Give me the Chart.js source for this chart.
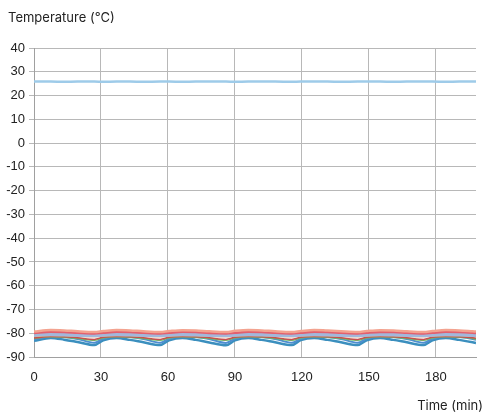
<!DOCTYPE html>
<html>
<head>
<meta charset="utf-8">
<script src="https://cdn.jsdelivr.net/npm/chart.js@4"></script>
<style>
html,body{margin:0;padding:0;background:#fff;}
#wrap{width:485px;height:417px;}
</style>
</head>
<body>
<div id="wrap"><canvas id="c" width="485" height="417"></canvas></div>
<script>
const times = [0,7.5,13.5,19.5, 27,31,37,43,49, 56.5,60.5,66.5,72.5,78.5, 86,90,96,102,108, 115.5,119.5,125.5,131.5,137.5, 145,149,155,161,167, 174.5,178.5,184.5,190.5,196.5, 198];
const xTicks = [0,30,60,90,120,150,180];
const yTicks = [40,30,20,10,0,-10,-20,-30,-40,-50,-60,-70,-80,-90];

const ambient = [25.9,25.9,25.8,25.9, 25.9,25.8,25.9,25.9,25.8, 25.9,25.9,25.8,25.9,25.9, 25.9,25.8,25.9,25.9,25.9, 25.8,25.9,25.9,25.9,25.8, 25.9,25.9,25.9,25.8,25.9, 25.9,25.9,25.8,25.9,25.9, 25.9];
const salmon = [-79.3,-78.6,-78.8,-79.2, -79.5,-79.1,-78.6,-78.8,-79.2, -79.5,-79.1,-78.7,-78.8,-79.2, -79.5,-79.0,-78.6,-78.8,-79.2, -79.5,-79.1,-78.6,-78.9,-79.2, -79.5,-79.1,-78.7,-78.8,-79.2, -79.5,-79.1,-78.6,-78.8,-79.2, -79.3];
const red = [-79.9,-79.4,-79.5,-79.8, -80.1,-79.8,-79.4,-79.5,-79.8, -80.1,-79.8,-79.4,-79.5,-79.9, -80.1,-79.8,-79.4,-79.5,-79.8, -80.1,-79.8,-79.4,-79.5,-79.8, -80.1,-79.8,-79.5,-79.5,-79.8, -80.1,-79.8,-79.4,-79.5,-79.8, -79.9];
const steel = [-80.8,-80.5,-80.6,-80.8, -81.0,-80.7,-80.5,-80.6,-80.8, -81.0,-80.7,-80.5,-80.6,-80.8, -81.0,-80.7,-80.5,-80.6,-80.8, -81.0,-80.7,-80.5,-80.6,-80.8, -81.0,-80.7,-80.5,-80.6,-80.8, -81.0,-80.7,-80.5,-80.6,-80.8, -80.9];
const orange = [-81.2,-81.0,-81.0,-81.2, -81.4,-81.1,-81.0,-81.0,-81.2, -81.4,-81.1,-81.0,-81.0,-81.2, -81.4,-81.1,-81.0,-81.0,-81.2, -81.4,-81.1,-81.0,-81.0,-81.2, -81.4,-81.1,-81.0,-81.0,-81.2, -81.4,-81.1,-81.0,-81.0,-81.2, -81.3];
const darkred = [-82.0,-81.4,-81.5,-81.9, -82.6,-81.7,-81.4,-81.5,-81.9, -82.6,-81.7,-81.4,-81.5,-81.9, -82.6,-81.7,-81.4,-81.5,-81.9, -82.6,-81.7,-81.4,-81.5,-81.9, -82.6,-81.7,-81.4,-81.5,-81.9, -82.6,-81.7,-81.4,-81.5,-81.9, -82.1];
const green = [-82.2,-81.5,-81.7,-82.2, -83.0,-82.0,-81.5,-81.7,-82.2, -83.0,-82.0,-81.5,-81.7,-82.2, -83.0,-82.0,-81.5,-81.7,-82.2, -83.0,-82.0,-81.5,-81.7,-82.2, -83.0,-82.0,-81.5,-81.7,-82.2, -83.0,-82.0,-81.5,-81.7,-82.2, -82.5];
const blue = [-82.6,-81.4,-81.6,-82.4, -84.0,-82.3,-81.4,-81.6,-82.4, -84.0,-82.3,-81.4,-81.6,-82.4, -84.1,-82.3,-81.4,-81.6,-82.4, -84.0,-82.3,-81.4,-81.6,-82.4, -84.0,-82.3,-81.4,-81.6,-82.4, -84.0,-82.3,-81.4,-81.6,-82.4, -82.8];
const teal = [-83.2,-82.0,-82.7,-83.7, -85.0,-83.0,-82.0,-82.8,-83.8, -85.0,-83.0,-82.0,-82.8,-83.9, -85.1,-83.0,-82.0,-82.8,-83.8, -85.0,-82.9,-82.0,-82.8,-83.8, -85.0,-83.0,-82.0,-82.8,-83.8, -85.0,-83.0,-82.0,-82.8,-83.8, -84.1];

const series = [
  {name:'ambient', data:ambient, color:'#9ecbe9', width:2.5},
  {name:'salmon', data:salmon, color:'#f3a390', width:2.5},
  {name:'red', data:red, color:'#e2606e', width:2.5},
  {name:'steel', data:steel, color:'#a2b8dc', width:3.5},
  {name:'orange', data:orange, color:'#eea33c', width:1.5},
  {name:'darkred', data:darkred, color:'#c8504e', width:1.5},
  {name:'green', data:green, color:'#6cbb6c', width:1.5},
  {name:'blue', data:blue, color:'#4e8ed0', width:2},
  {name:'teal', data:teal, color:'#3b8fbe', width:2.5}
];

const datasets = series.map(s => ({
  label: s.name,
  data: times.map((t,i)=>({x:t, y:s.data[i]})),
  borderColor: s.color,
  borderWidth: s.width,
  pointRadius: 0,
  fill: false,
  cubicInterpolationMode: 'monotone'
}));

const titlePlugin = {
  id:'titles',
  afterDraw(chart){
    const ctx = chart.ctx;
    ctx.save();
    ctx.fillStyle = '#222';
    ctx.font = '13px Inter';
    ctx.textBaseline = 'middle';
    ctx.textAlign = 'left';
    ctx.fillText('Temperature (°C)', 8, 18);
    ctx.textAlign = 'right';
    ctx.fillText('Time (min)', 483, 406);
    ctx.restore();
  }
};

new Chart(document.getElementById('c'), {
  type:'line',
  data:{datasets},
  options:{
    responsive:false,
    animation:false,
    devicePixelRatio:1,
    layout:{padding:{top:48,right:9,bottom:0,left:0}},
    plugins:{legend:{display:false}, tooltip:{enabled:false}},
    scales:{
      x:{
        type:'linear', min:0, max:198,
        afterBuildTicks(scale){ scale.ticks = xTicks.map(v=>({value:v})); },
        afterFit(scale){ scale.height = 60; },
        grid:{color:'#b8b8b8', lineWidth:1, tickLength:0, drawTicks:false},
        border:{color:'#a0a0a0', width:1},
        ticks:{color:'#222', font:{family:'Liberation Sans', size:13}, padding:13, maxRotation:0}
      },
      y:{
        type:'linear', min:-90, max:40,
        afterBuildTicks(scale){ scale.ticks = yTicks.slice().reverse().map(v=>({value:v})); },
        afterFit(scale){ scale.width = 34; },
        grid:{color:'#b8b8b8', lineWidth:1, tickLength:5, drawTicks:true},
        border:{color:'#a0a0a0', width:1},
        ticks:{color:'#222', font:{family:'Liberation Sans', size:13}, padding:4}
      }
    }
  },
  plugins:[titlePlugin]
});
</script>
</body>
</html>
